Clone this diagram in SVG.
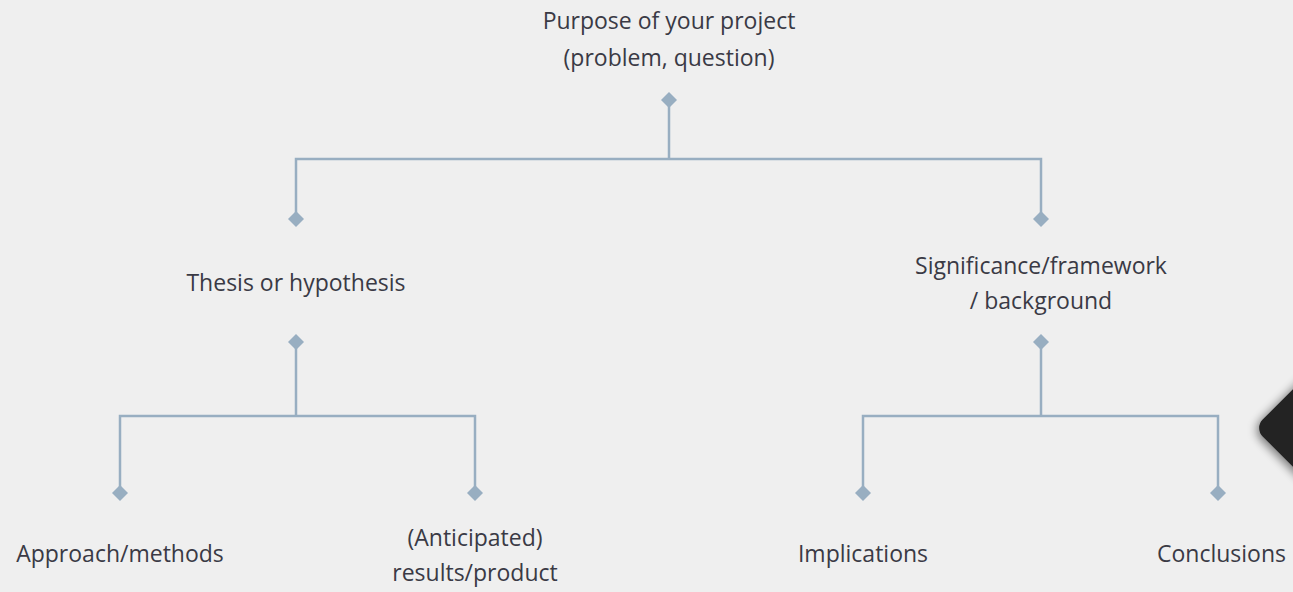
<svg xmlns="http://www.w3.org/2000/svg" width="1293" height="592" viewBox="0 0 1293 592">
<style>
.t{font-family:"Open Sans","Liberation Sans",sans-serif;font-size:23px;fill:#3a3a45;text-anchor:middle}
.c{fill:none;stroke:#98aec1;stroke-width:2.5}
.d{fill:#98aec1}
</style>
<defs>
<filter id="sh" x="-50%" y="-50%" width="200%" height="200%"><feGaussianBlur stdDeviation="5"/></filter>
</defs>
<rect width="1293" height="592" fill="#efefef"/>
<g id="deco">
<rect x="1270" y="385" width="90" height="90" rx="14" transform="rotate(45 1315 430)" fill="#000" opacity="0.5" filter="url(#sh)"/>
<rect x="1272" y="385" width="86" height="86" rx="12" transform="rotate(45 1315 428)" fill="#232323"/>
</g>
<g id="connectors">
<path class="c" d="M669 100V159M296 219V159H1041V219"/>
<path class="c" d="M296 342V416M120 493V416H475V493"/>
<path class="c" d="M1041 342V416M863 493V416H1218V493"/>
<g class="d">
<path d="M669 92l8 8-8 8-8-8z"/>
<path d="M296 211l8 8-8 8-8-8z"/>
<path d="M1041 211l8 8-8 8-8-8z"/>
<path d="M296 334l8 8-8 8-8-8z"/>
<path d="M1041 334l8 8-8 8-8-8z"/>
<path d="M120 485l8 8-8 8-8-8z"/>
<path d="M475 485l8 8-8 8-8-8z"/>
<path d="M863 485l8 8-8 8-8-8z"/>
<path d="M1218 485l8 8-8 8-8-8z"/>
</g>
</g>
<g id="purpose"><text class="t" x="669" y="29">Purpose of your project</text><text class="t" x="669" y="66">(problem, question)</text></g>
<g id="thesis"><text class="t" x="296" y="291">Thesis or hypothesis</text></g>
<g id="significance"><text class="t" x="1041" y="274">Significance/framework</text><text class="t" x="1041" y="309">/ background</text></g>
<g id="approach"><text class="t" x="120" y="562">Approach/methods</text></g>
<g id="results"><text class="t" x="475" y="546">(Anticipated)</text><text class="t" x="475" y="581">results/product</text></g>
<g id="implications"><text class="t" x="863" y="562">Implications</text></g>
<g id="conclusions"><text class="t" x="1286" y="562" style="text-anchor:end">Conclusions</text></g>
</svg>
